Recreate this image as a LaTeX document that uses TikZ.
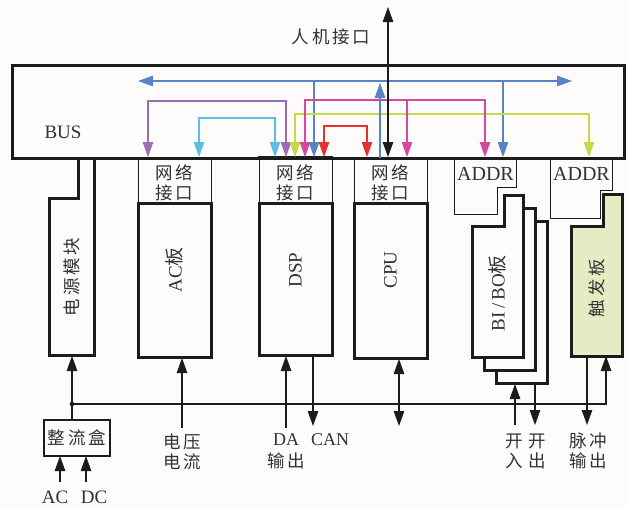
\documentclass[tikz,border=0pt]{standalone}
\usepackage{fontspec}
\setmainfont{Liberation Serif}
\newfontfamily\cjk[LetterSpace=16]{Noto Sans CJK SC}
\usetikzlibrary{arrows.meta}
\definecolor{bg}{RGB}{253,252,250}
\definecolor{cBlue}{RGB}{86,132,196}
\definecolor{cPurple}{RGB}{158,108,182}
\definecolor{cCyan}{RGB}{92,190,228}
\definecolor{cYel}{RGB}{196,216,72}
\definecolor{cPink}{RGB}{214,72,155}
\definecolor{cRed}{RGB}{228,50,46}
\definecolor{cGreen}{RGB}{229,236,196}
\definecolor{ink}{RGB}{28,28,28}
\definecolor{txt}{RGB}{50,50,50}
\begin{document}
\begin{tikzpicture}[x=1pt,y=-1pt,
  thickbox/.style={draw=ink,line width=3pt,fill=bg,line join=miter},
  thinbox/.style={draw=ink,line width=1pt,fill=bg},
  arr/.style={-{Triangle[width=10.5pt,length=15pt]},line width=1.1pt},
  darr/.style={{Triangle[width=10.5pt,length=15pt]}-{Triangle[width=10.5pt,length=15pt]},line width=1.1pt},
  cj/.style={font=\cjk\fontsize{17.5}{20}\selectfont,text=txt,inner sep=0pt,align=center},
  lt/.style={font=\fontsize{19}{22}\selectfont,text=txt,inner sep=0pt,align=center},
]
\useasboundingbox[fill=bg] (0,0) rectangle (628,506);

% ---------- modules ----------
% power module
\draw[thickbox] (78,158) -- (78,198) -- (49,198) -- (49,355) -- (94,355) -- (94,158);
\node[cj,rotate=90] (pwr) at (72,277) {电源模块};

% AC board
\draw[thinbox] (138,158) rectangle (211,203);
\draw[thickbox] (138,203) rectangle (211,357);
\node[cj] (acif) at (174.5,182.5) {网络\\接口};
\node[lt,rotate=90] (ac) at (174.5,270) {AC{\cjk 板}};

% DSP
\draw[thinbox] (259,158) rectangle (332,203);
\draw[thickbox] (259,203) rectangle (332,355);
\node[cj] (dspif) at (295.5,182.5) {网络\\接口};
\node[lt,rotate=90] (dsp) at (295.5,270) {DSP};

% CPU
\draw[thinbox] (354,158) rectangle (427,203);
\draw[thickbox] (354,203) rectangle (427,358);
\node[cj] (cpuif) at (390.5,182.5) {网络\\接口};
\node[lt,rotate=90] (cpu) at (390.5,270) {CPU};

% BI/BO
\draw[thinbox] (454,158) -- (516,158) -- (516,187) -- (497,187) -- (497,214) -- (454,214) -- cycle;
\node[lt,font=\fontsize{20}{22}\selectfont] (addr1) at (485.5,174) {ADDR};
\foreach \s in {2,1,0}
  \draw[thickbox,shift={(12*\s,13*\s)}] (472,226) -- (504,226) -- (504,195) -- (523,195) -- (523,357) -- (472,357) -- cycle;
\node[lt,rotate=90] (bibo) at (497.5,293) {BI\,/\,BO{\cjk 板}};

% trigger board
\draw[thinbox] (550,158) -- (612,158) -- (612,190) -- (600,190) -- (600,218) -- (550,218) -- cycle;
\node[lt,font=\fontsize{20}{22}\selectfont] (addr2) at (581.5,174) {ADDR};
\draw[thickbox,fill=cGreen] (571,226) -- (603,226) -- (603,194) -- (622,194) -- (622,356) -- (571,356) -- cycle;
\node[cj,rotate=90] (trig) at (597,288) {触发板};

% ---------- bus ----------
\draw[draw=ink,line width=3pt,fill=bg] (12,65) rectangle (624,158);
\draw[ink,line width=3.5pt] (258,158) -- (333,158);
\node[lt] (bus) at (63,132) {BUS};
\node[cj] (hmi) at (331,37) {人机接口};

% ---------- bus signal coordinates ----------
\coordinate (bL) at (138,81);   \coordinate (bR) at (572,81);
\coordinate (bD1) at (314,81);  \coordinate (bD1e) at (314,157);
\coordinate (bD2) at (503,81);  \coordinate (bD2e) at (503,157);
\coordinate (bUs) at (380,158); \coordinate (bUe) at (380,83);
\coordinate (pu1) at (148,157); \coordinate (pu2) at (286,157);
\coordinate (cy1) at (199,157); \coordinate (cy2) at (275,157);
\coordinate (ye1) at (295,157); \coordinate (ye2) at (589,157);
\coordinate (pk1) at (305,157); \coordinate (pk2) at (485,157); \coordinate (pk3) at (407,157);
\coordinate (pkB) at (407,100);
\coordinate (rd1) at (324,157); \coordinate (rd2) at (367,157);
\coordinate (hmiT) at (388,7);  \coordinate (hmiB) at (388,157);

\draw[darr,cBlue] (bL) -- (bR);
\draw[arr,cBlue] (bD1) -- (bD1e);
\draw[arr,cBlue] (bD2) -- (bD2e);
\draw[darr,cPurple] (pu1) -- ++(0,-56) -| (pu2);
\draw[darr,cYel] (ye1) -- ++(0,-43) -| (ye2);
\draw[darr,cCyan] (cy1) -- ++(0,-39) -| (cy2);
\draw[darr,cPink] (pk1) -- ++(0,-57) -| (pk2);
\draw[arr,cPink] (pkB) -- (pk3);
\draw[darr,cRed] (rd1) -- ++(0,-31) -| (rd2);
\draw[arr,cBlue] (bUs) -- (bUe);
\draw[darr,ink] (hmiT) -- (hmiB);

% ---------- bottom connections ----------
\node[draw=ink,line width=1.5pt,fill=bg,minimum width=66pt,minimum height=36pt,inner sep=0pt] (rect) at (77,438) {};
\node[cj] (rectt) at (77,438) {整流盒};

\coordinate (pwB) at (72,356);  \coordinate (rcT) at (72,420);
\coordinate (jn) at (72,404);   \coordinate (trR) at (606,356);
\draw[arr,ink] (rcT) -- (pwB);
\draw[arr,ink] (jn) -| (trR);
\fill[ink] (jn) circle (2.3pt);

\coordinate (acIn) at (60,482);  \coordinate (acInE) at (60,456);
\coordinate (dcIn) at (86,482);  \coordinate (dcInE) at (86,456);
\draw[arr,ink] (acIn) -- (acInE);
\draw[arr,ink] (dcIn) -- (dcInE);

\coordinate (vi) at (182,428);   \coordinate (viE) at (182,358);
\draw[arr,ink] (vi) -- (viE);
\coordinate (da) at (286,428);   \coordinate (daE) at (286,356);
\draw[arr,ink] (da) -- (daE);
\coordinate (canS) at (313,356); \coordinate (canE) at (313,426);
\draw[arr,ink] (canS) -- (canE);
\coordinate (cpS) at (399,359);  \coordinate (cpE) at (399,426);
\draw[darr,ink] (cpS) -- (cpE);
\coordinate (bi) at (515,425);   \coordinate (biE) at (515,384);
\draw[arr,ink] (bi) -- (biE);
\coordinate (boS) at (535,384);  \coordinate (boE) at (535,425);
\draw[arr,ink] (boS) -- (boE);
\coordinate (plS) at (587,357);  \coordinate (plE) at (587,425);
\draw[arr,ink] (plS) -- (plE);

% ---------- bottom labels ----------
\node[cj] (lvi) at (182,452) {电压\\电流};
\node[lt,font=\fontsize{18}{20}\selectfont] (lda) at (286,440) {DA};
\node[cj] (lout1) at (286,461) {输出};
\node[lt,font=\fontsize{18}{20}\selectfont] (lcan) at (330,439.5) {CAN};
\node[cj] (lbi) at (514,451) {开\\入};
\node[cj] (lbo) at (537,451) {开\\出};
\node[cj] (lpl) at (588,451) {脉冲\\输出};
\node[lt] (lac) at (55,497) {AC};
\node[lt] (ldc) at (94,497) {DC};
\end{tikzpicture}
\end{document}
